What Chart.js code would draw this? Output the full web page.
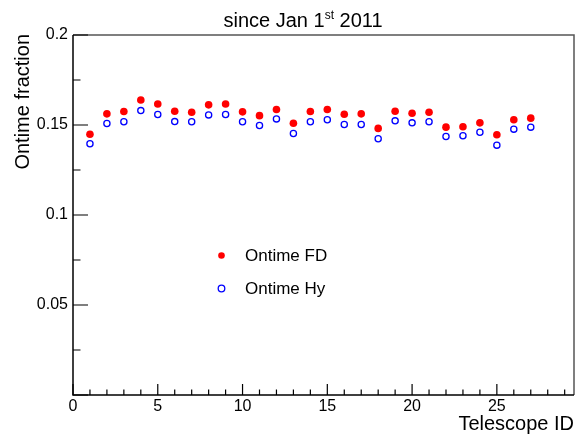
<!DOCTYPE html>
<html>
<head>
<meta charset="utf-8">
<script src="https://cdn.jsdelivr.net/npm/chart.js@4/dist/chart.umd.min.js"></script>
<style>
html,body{margin:0;padding:0;background:#fff;}
#wrap{width:582px;height:434px;position:relative;}
</style>
</head>
<body>
<div id="wrap"><canvas id="c" width="582" height="434"></canvas></div>
<script>
// ---- data ----
const telescopeIds = [1,2,3,4,5,6,7,8,9,10,11,12,13,14,15,16,17,18,19,20,21,22,23,24,25,26,27];
const ontimeFD = [0.1449,0.1562,0.1575,0.1639,0.1617,0.1576,0.1571,0.1612,0.1617,0.1573,0.1552,0.1586,0.1510,0.1575,0.1586,0.1560,0.1562,0.1481,0.1576,0.1565,0.1571,0.1488,0.1490,0.1512,0.1446,0.1529,0.1538];
const ontimeHy = [0.1396,0.1508,0.1518,0.1580,0.1558,0.1519,0.1518,0.1556,0.1558,0.1518,0.1497,0.1534,0.1453,0.1518,0.1529,0.1503,0.1503,0.1424,0.1523,0.1512,0.1518,0.1436,0.1440,0.1460,0.1388,0.1477,0.1488];
const xTickValues = [0,5,10,15,20,25];
const yTickValues = [0,0.05,0.1,0.15,0.2];
const yTickLabels = ['', '0.05', '0.1', '0.15', '0.2'];
const xMinorStep = 1;
const yMinorStep = 0.025;
const seriesNames = ['Ontime FD', 'Ontime Hy'];
const titleParts = ['since Jan 1', 'st', ' 2011'];
const xTitle = 'Telescope ID';
const yTitle = 'Ontime fraction';

const FONT = '"Liberation Sans", Arial, Helvetica, sans-serif';

const framePlugin = {
  id: 'frame',
  afterDraw(chart) {
    const ctx = chart.ctx, a = chart.chartArea;
    const xs = chart.scales.x, ys = chart.scales.y;
    ctx.save();
    // top/right frame
    ctx.strokeStyle = '#555';
    ctx.lineWidth = 1.5;
    ctx.beginPath();
    ctx.moveTo(a.left, a.top); ctx.lineTo(a.right, a.top); ctx.lineTo(a.right, a.bottom);
    ctx.stroke();
    // axes
    ctx.strokeStyle = '#000';
    ctx.lineWidth = 1.5;
    ctx.beginPath();
    ctx.moveTo(a.left, a.top); ctx.lineTo(a.left, a.bottom); ctx.lineTo(a.right, a.bottom);
    ctx.stroke();
    // ticks
    ctx.lineWidth = 1.2;
    ctx.beginPath();
    for (let v = 0; v <= xs.max + 1e-9; v += xMinorStep) {
      const px = xs.getPixelForValue(v);
      const major = xTickValues.includes(v);
      ctx.moveTo(px, a.bottom); ctx.lineTo(px, a.bottom - (major ? 11 : 5.5));
    }
    for (let i = 0; i * yMinorStep <= ys.max + 1e-9; i++) {
      const v = i * yMinorStep;
      const py = ys.getPixelForValue(v);
      const major = (i % 2 === 0);
      ctx.moveTo(a.left, py); ctx.lineTo(a.left + (major ? 15 : 7.5), py);
    }
    ctx.stroke();

    // title with superscript
    ctx.fillStyle = '#000';
    ctx.textBaseline = 'alphabetic';
    const f1 = '20px ' + FONT, f2 = '12px ' + FONT;
    ctx.font = f1; const w1 = ctx.measureText(titleParts[0]).width; const w3 = ctx.measureText(titleParts[2]).width;
    ctx.font = f2; const w2 = ctx.measureText(titleParts[1]).width;
    let tx = 303 - (w1 + w2 + w3) / 2;
    const ty = 27;
    ctx.font = f1; ctx.textAlign = 'left'; ctx.fillText(titleParts[0], tx, ty); tx += w1;
    ctx.font = f2; ctx.fillText(titleParts[1], tx, ty - 8); tx += w2;
    ctx.font = f1; ctx.fillText(titleParts[2], tx, ty);

    // axis titles
    ctx.font = '20px ' + FONT;
    ctx.textAlign = 'right';
    ctx.fillText(xTitle, a.right, 430);
    ctx.save();
    ctx.translate(29, a.top - 1);
    ctx.rotate(-Math.PI / 2);
    ctx.textAlign = 'right';
    ctx.fillText(yTitle, 0, 0);
    ctx.restore();

    // legend
    const ds = chart.data.datasets;
    const items = [{y: 256, d: ds[0]}, {y: 289, d: ds[1]}];
    ctx.font = '17px ' + FONT;
    ctx.textAlign = 'left';
    ctx.textBaseline = 'middle';
    items.forEach(it => {
      ctx.beginPath();
      ctx.arc(221.5, it.y - 0.5, 3.3, 0, Math.PI * 2);
      if (it.d.borderWidth > 0) {
        ctx.lineWidth = it.d.borderWidth; ctx.strokeStyle = it.d.borderColor; ctx.stroke();
      } else {
        ctx.fillStyle = it.d.backgroundColor; ctx.fill();
      }
      ctx.fillStyle = '#000';
      ctx.fillText(it.d.label, 245, it.y);
    });
    ctx.restore();
  }
};

const chart = new Chart(document.getElementById('c'), {
  type: 'scatter',
  data: {
    datasets: [
      {
        label: seriesNames[0],
        data: telescopeIds.map((id, i) => ({x: id, y: ontimeFD[i]})),
        pointStyle: 'circle', pointRadius: 3.8, pointHoverRadius: 3.8,
        backgroundColor: '#ff0000', borderColor: '#ff0000', borderWidth: 0
      },
      {
        label: seriesNames[1],
        data: telescopeIds.map((id, i) => ({x: id, y: ontimeHy[i]})),
        pointStyle: 'circle', pointRadius: 3.1, pointHoverRadius: 3.1,
        backgroundColor: 'rgba(255,255,255,0)', borderColor: '#0000ff', borderWidth: 1.3
      }
    ]
  },
  options: {
    responsive: false,
    animation: false,
    events: [],
    layout: {padding: {left: 0, right: 8, top: 35, bottom: 0}},
    plugins: {legend: {display: false}, title: {display: false}, tooltip: {enabled: false}},
    scales: {
      x: {
        type: 'linear', min: 0, max: 29.55,
        grid: {display: false, drawTicks: false},
        border: {display: false},
        afterBuildTicks(s) { s.ticks = xTickValues.map(v => ({value: v})); },
        afterFit(s) { s.height = 39; },
        ticks: {color: '#000', font: {family: FONT, size: 16}, padding: 2, maxRotation: 0, autoSkip: false,
                callback: v => String(v)}
      },
      y: {
        type: 'linear', min: 0, max: 0.2,
        grid: {display: false, drawTicks: false},
        border: {display: false},
        afterBuildTicks(s) { s.ticks = yTickValues.map(v => ({value: v})); },
        afterFit(s) { s.width = 73; },
        ticks: {color: '#000', font: {family: FONT, size: 16}, padding: 5, autoSkip: false,
                callback: (v) => { const i = yTickValues.indexOf(v); return i >= 0 ? yTickLabels[i] : ''; }}
      }
    }
  },
  plugins: [framePlugin]
});
</script>
</body>
</html>
